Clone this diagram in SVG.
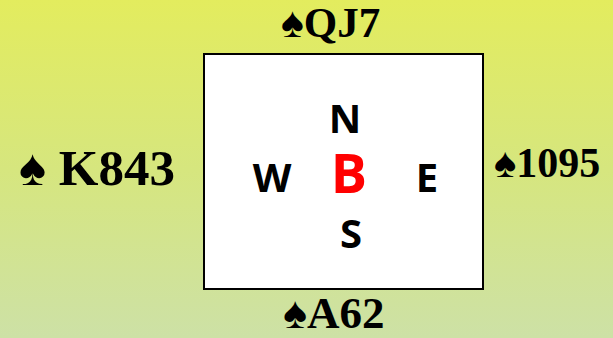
<svg xmlns="http://www.w3.org/2000/svg" width="613" height="338" viewBox="0 0 613 338">
<defs>
<linearGradient id="bg" x1="0" y1="0" x2="0" y2="1">
<stop offset="0" stop-color="#e3ec5e"/>
<stop offset="0.5" stop-color="#d6e67e"/>
<stop offset="1" stop-color="#cde1a6"/>
</linearGradient>
<style>
.card{font-family:"Liberation Serif","Times New Roman",serif;font-weight:bold;fill:#000;}
.dir{font-family:"Open Sans","Liberation Sans",sans-serif;font-weight:bold;fill:#000;font-size:40px;text-anchor:middle;}
.red{fill:#ff0000;font-size:54px;}
</style>
</defs>
<rect x="0" y="0" width="613" height="338" fill="url(#bg)"/>
<g id="table">
<rect x="204" y="54" width="279" height="235" fill="#fff" stroke="#000" stroke-width="2"/>
</g>
<g id="north"><text class="card" x="281" y="37" font-size="43">♠QJ7</text></g>
<g id="west"><text class="card" x="19" y="185" font-size="51">♠ K843</text></g>
<g id="east"><text class="card" x="494" y="177" font-size="42">♠1095</text></g>
<g id="south"><text class="card" x="283" y="328" font-size="45">♠A62</text></g>
<g id="compass">
<text class="dir" x="345" y="133">N</text>
<text class="dir" x="272" y="192">W</text>
<text class="dir" x="427" y="192">E</text>
<text class="dir" x="351" y="248">S</text>
<text class="dir red" x="349" y="193">B</text>
</g>
</svg>
